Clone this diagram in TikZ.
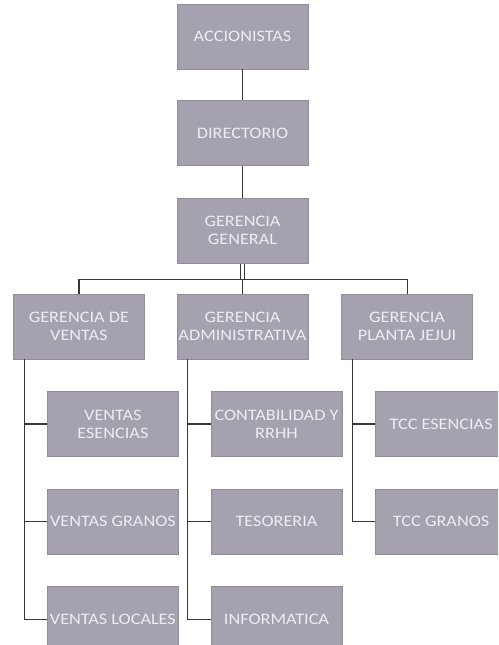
\documentclass[tikz,border=0pt]{standalone}
\usepackage{fontspec}
\setmainfont{Carlito}[FakeStretch=1.14]
\usepackage{xcolor}
\usetikzlibrary{positioning}

\definecolor{boxgray}{RGB}{166,161,175}
\definecolor{boxedge}{RGB}{145,140,155}
\definecolor{boxtext}{RGB}{238,236,242}
\definecolor{linegray}{RGB}{55,55,60}

\begin{document}
\begin{tikzpicture}[
  x=1pt, y=1pt,
  node distance=32pt,
  unit/.style={rectangle, fill=boxgray, draw=boxedge, line width=0.6pt,
    minimum width=131pt, minimum height=65pt, inner xsep=0pt,
    align=center, text=boxtext, font=\fontsize{16}{18}\selectfont},
  link/.style={draw=linegray, line width=1.2pt}
]

\useasboundingbox (0,0) rectangle (498,-645);
\clip (0,0) rectangle (498,-645);

\node (acc) [unit] at (242.5,-36.5) {ACCIONISTAS};
\node (dir) [unit, below=31pt of acc] {DIRECTORIO};
\node (gg) [unit, below=of dir] {GERENCIA\\GENERAL};

\node (ga) [unit, below=30pt of gg] {GERENCIA\\ADMINISTRATIVA};
\node (gv) [unit, left=of ga] {GERENCIA DE\\VENTAS};
\node (gp) [unit, right=33pt of ga] {GERENCIA\\PLANTA JEJUI};

% ventas
\node (vesen) [unit, below=of gv, xshift=34pt] {VENTAS\\ESENCIAS};
\node (vgran) [unit, below=of vesen] {VENTAS GRANOS};
\node (vloc) [unit, below=of vgran] {VENTAS LOCALES};

% administracion
\node (cont) [unit, below=of ga, xshift=34pt] {CONTABILIDAD Y\\RRHH};
\node (teso) [unit, below=of cont] {TESORERIA};
\node (info) [unit, below=of teso] {INFORMATICA};

% planta
\node (tccesen) [unit, below=of gp, xshift=34pt] {TCC ESENCIAS};
\node (tccgran) [unit, below=of tccesen] {TCC GRANOS};

\draw[link] (acc) -- (dir);
\draw[link] (dir) -- (gg);

\coordinate (bus) at ([yshift=-16pt]gg.south);
\draw[link, double, double distance=2.5pt] (gg) -- (bus);
\draw[link] (gv.north) |- (bus) -| (gp.north);
\draw[link] (bus) -- (ga.north);

\draw[link] ([xshift=11pt]gv.south west) |- (vesen.west);
\draw[link] ([xshift=11pt]gv.south west) |- (vgran.west);
\draw[link] ([xshift=11pt]gv.south west) |- (vloc.west);

\draw[link] ([xshift=11pt]ga.south west) |- (cont.west);
\draw[link] ([xshift=11pt]ga.south west) |- (teso.west);
\draw[link] ([xshift=11pt]ga.south west) |- (info.west);

\draw[link] ([xshift=11pt]gp.south west) |- (tccesen.west);
\draw[link] ([xshift=11pt]gp.south west) |- (tccgran.west);

\end{tikzpicture}
\end{document}
